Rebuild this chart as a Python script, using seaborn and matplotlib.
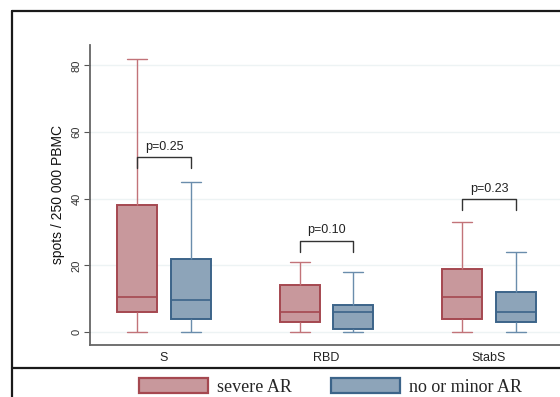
import numpy as np
import pandas as pd
import seaborn as sns
import matplotlib.pyplot as plt
from matplotlib.patches import Patch
from matplotlib.lines import Line2D

# five-number summaries: min, Q1, median, Q3, max
antigens = ['S', 'RBD', 'StabS']
groups = ['severe AR', 'no or minor AR']
severe_ar = {
    'S': [0, 6, 10.5, 38, 82],
    'RBD': [0, 3, 6, 14, 21],
    'StabS': [0, 4, 10.5, 19, 33],
}
minor_ar = {
    'S': [0, 4, 9.5, 22, 45],
    'RBD': [0, 1, 6, 8, 18],
    'StabS': [0, 3, 6, 12, 24],
}
p_labels = ['p=0.25', 'p=0.10', 'p=0.23']
bracket_y = [52.5, 27.4, 39.9]
bracket_drop = 3.4

fill_colors = ['#C8989C', '#8DA4B9']
edge_colors = ['#A54850', '#3C6489']
whisker_colors = ['#C27379', '#6A8DAC']

rows = []
for grp, table in zip(groups, [severe_ar, minor_ar]):
    for ag in antigens:
        for v in table[ag]:
            rows.append({'antigen': ag, 'group': grp, 'spots': v})
df = pd.DataFrame(rows)

sns.set_style('white')
plt.rcParams['font.family'] = ['Liberation Sans', 'DejaVu Sans']

fig = plt.figure(figsize=(5.6, 3.97), dpi=100)
ax = fig.add_axes([0.1607, 0.1310, 0.8446, 0.7557])

sns.boxplot(data=df, x='antigen', y='spots', hue='group', order=antigens,
            hue_order=groups, palette=fill_colors, saturation=1,
            width=0.66, gap=0.25, whis=(0, 100), linewidth=1.2,
            legend=False, ax=ax)

# colour each box by its hue (left of the category = severe)
for patch in ax.patches:
    xs = patch.get_path().vertices[:, 0]
    xc = (xs.min() + xs.max()) / 2
    i = 0 if xc < round(xc) else 1
    patch.set_facecolor(fill_colors[i])
    patch.set_edgecolor(edge_colors[i])
    patch.set_linewidth(1.4)
for line in ax.lines:
    xd = np.asarray(line.get_xdata(), dtype=float)
    if len(xd) == 0:
        continue
    xc = (xd.min() + xd.max()) / 2
    i = 0 if xc < round(xc) else 1
    span = xd.max() - xd.min()
    if span < 0.2:
        line.set_color(whisker_colors[i])
        line.set_linewidth(1.0)
    else:
        line.set_color(edge_colors[i])
        line.set_linewidth(1.2)

# p-value brackets
off = 0.165
for k, (lab, yb) in enumerate(zip(p_labels, bracket_y)):
    x0, x1 = k - off, k + off
    ax.plot([x0, x0, x1, x1], [yb - bracket_drop, yb, yb, yb - bracket_drop],
            color='#333333', lw=1.0)
    ax.text(k, yb + 1.3, lab, ha='center', va='bottom', fontsize=9, color='#222222')

ax.set_xlim(-0.455, 2.455)
ax.set_ylim(-3.9, 86.1)
ax.set_yticks([0, 20, 40, 60, 80])
ax.yaxis.grid(True, color='#EDF3F4', lw=1)
ax.set_axisbelow(True)
ax.set_xlabel('')
ax.set_ylabel('spots / 250 000 PBMC', fontsize=10, color='#111111', labelpad=5)
ax.tick_params(axis='y', labelsize=8, labelrotation=90, length=4, width=0.8,
               color='#555555', labelcolor='#333333', pad=2, left=True)
ax.tick_params(axis='x', labelsize=9, length=0, pad=5, labelcolor='#222222')
for lab in ax.get_yticklabels():
    lab.set_va('center')
for side in ['top', 'right']:
    ax.spines[side].set_visible(False)
for side in ['left', 'bottom']:
    ax.spines[side].set_color('#666666')
    ax.spines[side].set_linewidth(1.3)

# outer frame and separator above the legend
frame_kw = dict(color='#1a1a1a', lw=1.6, transform=fig.transFigure)
fig.add_artist(Line2D([0.0223, 0.0223], [0.0, 0.972], **frame_kw))
fig.add_artist(Line2D([0.0223, 1.0], [0.972, 0.972], **frame_kw))
fig.add_artist(Line2D([0.0223, 1.0], [0.073, 0.073], **frame_kw))

handles = [Patch(facecolor=fill_colors[i], edgecolor=edge_colors[i], lw=1.6)
           for i in range(2)]
fig.legend(handles, groups, loc='center', bbox_to_anchor=(0.59, 0.025),
           ncol=2, frameon=False, handlelength=3.8, handleheight=0.85,
           handletextpad=0.5, columnspacing=2.2,
           prop={'family': 'Liberation Serif', 'size': 13})

fig.savefig('out.png', dpi=100)
